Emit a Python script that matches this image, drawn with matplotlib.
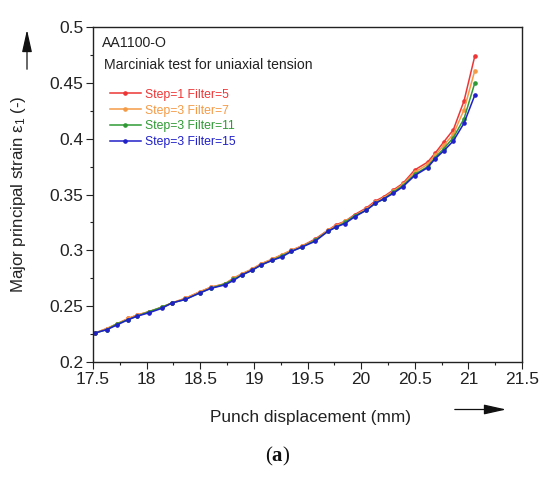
import matplotlib
matplotlib.use("Agg")
import matplotlib.pyplot as plt
from matplotlib.ticker import MultipleLocator

plt.rcParams['font.family'] = ['Liberation Sans', 'DejaVu Sans']
plt.rcParams['mathtext.fontset'] = 'custom'
plt.rcParams['mathtext.rm'] = 'Liberation Sans'
plt.rcParams['mathtext.it'] = 'Liberation Sans:italic'
plt.rcParams['mathtext.bf'] = 'Liberation Serif:bold'

x = [17.52, 17.63, 17.72, 17.83, 17.91, 18.02, 18.14, 18.24, 18.36, 18.50,
     18.60, 18.73, 18.81, 18.89, 18.98, 19.07, 19.17, 19.26, 19.35, 19.45,
     19.57, 19.69, 19.77, 19.85, 19.94, 20.05, 20.13, 20.21, 20.30, 20.39,
     20.50, 20.62, 20.69, 20.77, 20.86, 20.96, 21.06]

red = [0.226, 0.230, 0.234, 0.239, 0.242, 0.245, 0.249, 0.253, 0.257, 0.263,
       0.267, 0.270, 0.275, 0.279, 0.283, 0.288, 0.292, 0.296, 0.300, 0.304,
       0.310, 0.318, 0.323, 0.326, 0.332, 0.338, 0.344, 0.348, 0.354, 0.360,
       0.372, 0.379, 0.387, 0.397, 0.408, 0.434, 0.474]
orange = [0.226, 0.230, 0.234, 0.239, 0.242, 0.245, 0.249, 0.253, 0.257, 0.263,
          0.267, 0.270, 0.275, 0.279, 0.283, 0.288, 0.292, 0.296, 0.300, 0.304,
          0.309, 0.318, 0.322, 0.326, 0.331, 0.337, 0.343, 0.347, 0.353, 0.359,
          0.370, 0.377, 0.385, 0.394, 0.404, 0.426, 0.461]
green = [0.226, 0.229, 0.234, 0.238, 0.241, 0.245, 0.249, 0.253, 0.256, 0.262,
         0.266, 0.270, 0.274, 0.278, 0.282, 0.287, 0.291, 0.295, 0.299, 0.303,
         0.309, 0.317, 0.321, 0.325, 0.331, 0.336, 0.342, 0.346, 0.352, 0.358,
         0.368, 0.375, 0.383, 0.391, 0.401, 0.418, 0.450]
blue = [0.226, 0.229, 0.233, 0.238, 0.241, 0.244, 0.248, 0.253, 0.256, 0.262,
        0.266, 0.269, 0.273, 0.278, 0.282, 0.287, 0.291, 0.294, 0.299, 0.303,
        0.308, 0.317, 0.321, 0.324, 0.330, 0.336, 0.342, 0.346, 0.351, 0.357,
        0.367, 0.374, 0.382, 0.389, 0.398, 0.414, 0.439]

labels = ['Step=1 Filter=5', 'Step=3 Filter=7', 'Step=3 Filter=11', 'Step=3 Filter=15']
colors = ['#ee3535', '#f59a45', '#2f9a35', '#2020c8']
series = [red, orange, green, blue]

xticks = [17.5, 18, 18.5, 19, 19.5, 20, 20.5, 21, 21.5]
xticklabels = ['17.5', '18', '18.5', '19', '19.5', '20', '20.5', '21', '21.5']
yticks = [0.2, 0.25, 0.3, 0.35, 0.4, 0.45, 0.5]
yticklabels = ['0.2', '0.25', '0.3', '0.35', '0.4', '0.45', '0.5']

fig = plt.figure(figsize=(5.5, 4.78), dpi=100)
ax = fig.add_axes([93/550, 1-362/478, (522-93)/550, (362-27)/478])

for ys, c, lab in zip(series, colors, labels):
    ax.plot(x, ys, color=c, lw=1.1, marker='o', ms=2.3, label=lab)

ax.set_xlim(17.5, 21.5)
ax.set_ylim(0.2, 0.5)
ax.xaxis.set_minor_locator(MultipleLocator(0.25))
ax.yaxis.set_minor_locator(MultipleLocator(0.025))
ax.set_xticks(xticks)
ax.set_xticklabels(xticklabels)
ax.set_yticks(yticks)
ax.set_yticklabels(yticklabels)
ax.tick_params(which='both', direction='out', top=False, right=False,
               labelsize=12.5, colors='#222222', width=0.8)
ax.tick_params(which='major', length=5, pad=2)
ax.tick_params(which='minor', length=2.5)
for s in ax.spines.values():
    s.set_linewidth(1.0)
    s.set_color('#222222')

ax.text(0.022, 0.951, 'AA1100-O', transform=ax.transAxes, fontsize=10.2,
        color='#222222', va='center', ha='left')
ax.text(0.026, 0.886, 'Marciniak test for uniaxial tension', transform=ax.transAxes,
        fontsize=10.1, color='#222222', va='center', ha='left')

leg = ax.legend(loc='upper left', bbox_to_anchor=(0.04, 0.816), frameon=False,
                fontsize=8.8, labelcolor='linecolor', handlelength=2.5,
                handletextpad=0.35, labelspacing=0.32, borderpad=0,
                borderaxespad=0, markerscale=1.0)

ax.set_xlabel('Punch displacement (mm)', fontsize=12.4, color='#222222')
ax.set_ylabel(r'Major principal strain $\mathrm{\varepsilon}_\mathrm{1}$ (-)',
              fontsize=12.2, color='#222222')
ax.xaxis.set_label_coords(0.507, -0.143)
ax.yaxis.set_label_coords(-0.152, 0.5)

astyle = '-|>,head_length=1.7,head_width=0.38'
fig.add_artist(matplotlib.patches.FancyArrowPatch(
    (452/550, 1-409.5/478), (509/550, 1-409.5/478), transform=fig.transFigure,
    arrowstyle=astyle, mutation_scale=8, lw=0.9, color='#111111'))
fig.add_artist(matplotlib.patches.FancyArrowPatch(
    (27/550, 1-72/478), (27/550, 1-27/478), transform=fig.transFigure,
    arrowstyle=astyle, mutation_scale=8, lw=0.9, color='#111111'))

fig.text(278/550, 1-456/478, r'($\mathbf{a}$)', fontsize=15, family='Liberation Serif',
         ha='center', va='center', color='#111111')

fig.savefig('out.png', dpi=100)
